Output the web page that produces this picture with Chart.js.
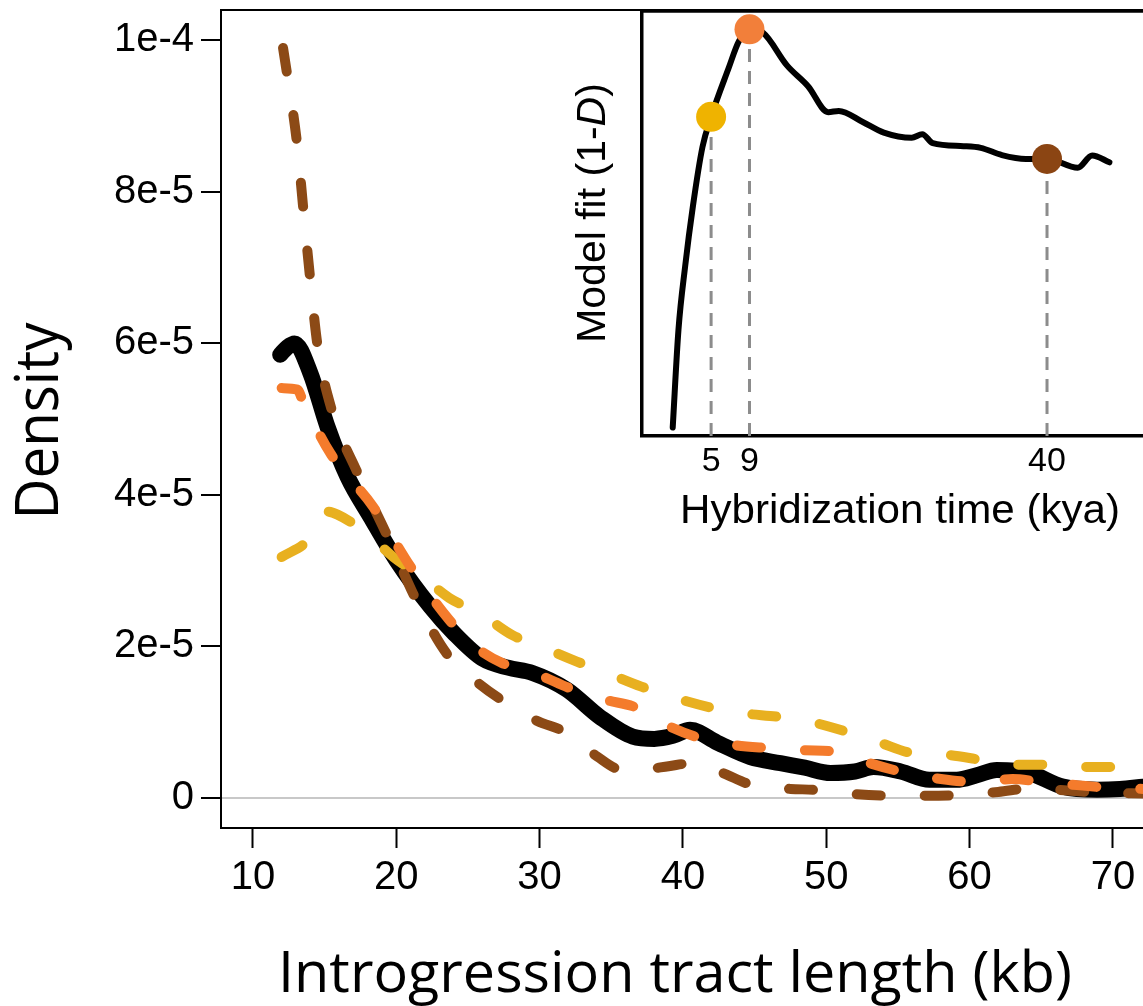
<!DOCTYPE html>
<html>
<head>
<meta charset="utf-8">
<script src="https://cdn.jsdelivr.net/npm/chart.js@4.4.1/dist/chart.umd.min.js"></script>
<style>
  html, body { margin: 0; padding: 0; background: #fff; overflow: hidden; }
  #wrap { position: relative; width: 1143px; height: 1006px; }
  #main { position: absolute; left: 0; top: 0; }
  #inset { position: absolute; left: 540px; top: 0; }
</style>
</head>
<body>
<div id="wrap">
  <canvas id="main" width="1143" height="1006"></canvas>
  <canvas id="inset" width="603" height="545"></canvas>
</div>
<script>
// main panel: tract length density (kb, density)
const kbObserved = [11.9, 12.4, 12.9, 14.0, 15.2, 16.6, 18.2, 20.0, 22.4, 24.0, 26.0, 27.8, 29.5, 31.9, 34.2, 36.5, 38.0, 39.3, 40.5, 42.4, 44.7, 46.8, 48.5, 50.3, 52.0, 53.3, 55.2, 57.2, 59.1, 60.5, 61.9, 63.2, 64.2, 66.5, 68.9, 70.5, 72.1];
const densObserved = [5.85e-5, 5.95e-5, 6.0e-5, 5.61e-5, 4.90e-5, 4.24e-5, 3.71e-5, 3.14e-5, 2.52e-5, 2.18e-5, 1.84e-5, 1.72e-5, 1.65e-5, 1.43e-5, 1.07e-5, 0.81e-5, 0.78e-5, 0.82e-5, 0.90e-5, 0.73e-5, 0.54e-5, 0.46e-5, 0.40e-5, 0.33e-5, 0.35e-5, 0.41e-5, 0.35e-5, 0.24e-5, 0.24e-5, 0.30e-5, 0.37e-5, 0.36e-5, 0.33e-5, 0.15e-5, 0.11e-5, 0.12e-5, 0.15e-5];

const kb9kya = [12.0, 13.1, 13.5, 15.4, 18.4, 21.0, 23.7, 25.5, 27.4, 30.0, 32.1, 34.5, 36.8, 39.0, 41.2, 43.5, 45.9, 48.5, 50.8, 53.2, 55.6, 58.0, 60.5, 63.0, 65.1, 67.5, 70.0, 72.1];
const dens9kya = [5.41e-5, 5.39e-5, 5.23e-5, 4.55e-5, 3.84e-5, 3.05e-5, 2.35e-5, 2.00e-5, 1.78e-5, 1.62e-5, 1.45e-5, 1.30e-5, 1.19e-5, 0.95e-5, 0.79e-5, 0.70e-5, 0.66e-5, 0.63e-5, 0.61e-5, 0.45e-5, 0.33e-5, 0.25e-5, 0.21e-5, 0.25e-5, 0.21e-5, 0.17e-5, 0.13e-5, 0.12e-5];

const kb40kya = [12.1, 13.1, 13.5, 14.0, 14.5, 15.5, 17.3, 19.4, 21.4, 23.5, 25.5, 27.7, 29.8, 31.9, 34.0, 35.8, 37.5, 39.0, 40.7, 42.5, 45.2, 47.5, 49.8, 52.0, 54.7, 57.0, 59.5, 62.0, 64.4, 66.8, 69.1, 72.1];
const dens40kya = [9.9e-5, 8.6e-5, 7.8e-5, 6.84e-5, 5.98e-5, 5.12e-5, 4.29e-5, 3.45e-5, 2.61e-5, 1.91e-5, 1.55e-5, 1.25e-5, 1.02e-5, 0.86e-5, 0.55e-5, 0.37e-5, 0.38e-5, 0.42e-5, 0.46e-5, 0.35e-5, 0.15e-5, 0.12e-5, 0.10e-5, 0.05e-5, 0.03e-5, 0.03e-5, 0.04e-5, 0.08e-5, 0.13e-5, 0.10e-5, 0.07e-5, 0.06e-5];

const kb5kya = [12.0, 13.9, 15.2, 15.9, 17.9, 19.8, 21.8, 23.7, 25.8, 28.1, 30.2, 32.6, 34.7, 37.1, 39.3, 41.8, 44.1, 46.7, 49.0, 51.5, 53.6, 56.1, 58.4, 60.9, 63.3, 65.8, 68.2, 70.7, 72.1];
const dens5kya = [3.18e-5, 3.41e-5, 3.78e-5, 3.74e-5, 3.50e-5, 3.18e-5, 2.92e-5, 2.64e-5, 2.44e-5, 2.15e-5, 1.99e-5, 1.80e-5, 1.65e-5, 1.47e-5, 1.33e-5, 1.20e-5, 1.12e-5, 1.07e-5, 1.00e-5, 0.87e-5, 0.74e-5, 0.59e-5, 0.57e-5, 0.50e-5, 0.44e-5, 0.44e-5, 0.41e-5, 0.41e-5, 0.40e-5];

const xTickValues = [10, 20, 30, 40, 50, 60, 70];
const yTickValues = [0, 2e-5, 4e-5, 6e-5, 8e-5, 1e-4];
const yTickLabels = ['0', '2e-5', '4e-5', '6e-5', '8e-5', '1e-4'];

// inset: model fit vs hybridization time
const fitTime = [1.0, 1.6, 2.3, 3.1, 4.1, 5.0, 6.8, 7.9, 9.0, 10.4, 12.9, 15.1, 17.2, 18.3, 20.8, 23.0, 25.9, 27.0, 28.1, 31.3, 33.1, 35.3, 37.8, 40.0, 43.2, 44.7, 46.5];
const fitValue = [0.02, 0.25, 0.40, 0.54, 0.68, 0.751, 0.864, 0.929, 0.957, 0.949, 0.872, 0.823, 0.762, 0.765, 0.739, 0.714, 0.702, 0.710, 0.689, 0.682, 0.678, 0.661, 0.652, 0.652, 0.631, 0.660, 0.644];
const bestTimes = [5, 9, 40];
const bestValues = [0.751, 0.957, 0.652];
const insetTicks = [5, 9, 40];

const BLACK = '#000000';
const ORANGE = '#f47b2c';
const BROWN = '#8c4a16';
const YELLOW = '#e8b020';
const tickFont = '"Liberation Sans", Arial, sans-serif';
const titleFont = '"Open Sans", "Noto Sans", sans-serif';

function pts(xs, ys) {
  return xs.map((x, i) => ({ x: x, y: ys[i] }));
}

function fitText(ctx, text, x, y, size, family, targetW, angle) {
  ctx.save();
  ctx.font = size + 'px ' + family;
  const w = ctx.measureText(text).width;
  ctx.translate(x, y);
  if (angle) ctx.rotate(angle);
  ctx.scale(targetW / w, 1);
  ctx.textAlign = 'center';
  ctx.textBaseline = 'alphabetic';
  ctx.fillStyle = '#000';
  ctx.fillText(text, 0, 0);
  ctx.restore();
}

function noPad(s) {
  s.paddingTop = 0;
  s.paddingBottom = 0;
  s.paddingLeft = 0;
  s.paddingRight = 0;
}

function dashed(label, xs, ys, color, order) {
  return {
    label: label,
    data: pts(xs, ys),
    borderColor: color,
    borderWidth: 10,
    borderDash: [24, 44],
    borderCapStyle: 'round',
    pointRadius: 0,
    cubicInterpolationMode: 'monotone',
    order: order
  };
}

const mainTitles = {
  id: 'mainTitles',
  beforeDraw(chart) {
    const ctx = chart.ctx;
    ctx.save();
    ctx.fillStyle = '#fff';
    ctx.fillRect(0, 0, chart.width, chart.height);
    ctx.restore();
  },
  afterDraw(chart) {
    const ctx = chart.ctx;
    const a = chart.chartArea;
    ctx.save();
    ctx.strokeStyle = '#000';
    ctx.lineWidth = 2;
    ctx.beginPath();
    ctx.moveTo(a.left, a.top);
    ctx.lineTo(a.right, a.top);
    ctx.stroke();
    ctx.restore();
    fitText(ctx, 'Density', 58, 421, 60, titleFont, 197, -Math.PI / 2);
    fitText(ctx, 'Introgression tract length (kb)', 675, 992, 56, titleFont, 794, 0);
  }
};

new Chart(document.getElementById('main'), {
  type: 'line',
  data: {
    datasets: [
      {
        label: 'Observed',
        data: pts(kbObserved, densObserved),
        borderColor: BLACK,
        borderWidth: 16,
        borderCapStyle: 'round',
        borderJoinStyle: 'round',
        pointRadius: 0,
        cubicInterpolationMode: 'monotone',
        order: 4
      },
      dashed('40 kya', kb40kya, dens40kya, BROWN, 3),
      dashed('5 kya', kb5kya, dens5kya, YELLOW, 2),
      dashed('9 kya', kb9kya, dens9kya, ORANGE, 1)
    ]
  },
  options: {
    responsive: false,
    animation: false,
    devicePixelRatio: 1,
    layout: { autoPadding: false, padding: { top: 10, right: 0, left: 0, bottom: 0 } },
    plugins: { legend: { display: false }, tooltip: { enabled: false } },
    scales: {
      x: {
        type: 'linear',
        min: 7.77,
        max: 72.1,
        afterBuildTicks: (s) => { s.ticks = xTickValues.map(v => ({ value: v })); },
        afterFit: (s) => { s.height = 178; noPad(s); },
        ticks: { color: '#000', font: { size: 40, family: tickFont }, padding: 6, maxRotation: 0 },
        grid: { drawOnChartArea: false, tickLength: 20, tickColor: '#000', tickWidth: 2 },
        border: { display: true, color: '#000', width: 2 }
      },
      y: {
        type: 'linear',
        min: -0.396e-5,
        max: 1.04e-4,
        afterBuildTicks: (s) => { s.ticks = yTickValues.map(v => ({ value: v })); },
        afterFit: (s) => { s.width = 221; noPad(s); },
        ticks: {
          color: '#000',
          font: { size: 40, family: tickFont },
          padding: 7,
          callback: (v, i) => yTickLabels[i]
        },
        grid: {
          drawOnChartArea: true,
          color: (c) => (c.tick && c.tick.value === 0 ? '#c8c8c8' : 'rgba(0,0,0,0)'),
          lineWidth: 2,
          tickLength: 20,
          tickColor: '#000',
          tickWidth: 2
        },
        border: { display: true, color: '#000', width: 2 }
      }
    }
  },
  plugins: [mainTitles]
});

const insetDecor = {
  id: 'insetDecor',
  beforeDraw(chart) {
    const ctx = chart.ctx;
    const a = chart.chartArea;
    ctx.save();
    ctx.fillStyle = '#fff';
    ctx.fillRect(a.left, a.top, a.right - a.left, a.bottom - a.top);
    ctx.restore();
  },
  afterDraw(chart) {
    const ctx = chart.ctx;
    const a = chart.chartArea;
    ctx.save();
    ctx.strokeStyle = '#000';
    ctx.lineWidth = 3.5;
    ctx.beginPath();
    ctx.moveTo(a.left - 1.5, a.top);
    ctx.lineTo(a.right, a.top);
    ctx.stroke();
    ctx.restore();

    fitText(ctx, 'Hybridization time (kya)', 360, 523, 41, tickFont, 440, 0);

    // y title with italic D
    ctx.save();
    ctx.translate(65, 213);
    ctx.rotate(-Math.PI / 2);
    ctx.fillStyle = '#000';
    ctx.textBaseline = 'alphabetic';
    ctx.textAlign = 'left';
    const parts = [['Model fit (1-', ''], ['D', 'italic '], [')', '']];
    let total = 0;
    const widths = parts.map(p => {
      ctx.font = p[1] + '41px ' + tickFont;
      const w = ctx.measureText(p[0]).width;
      total += w;
      return w;
    });
    let x = -total / 2;
    parts.forEach((p, i) => {
      ctx.font = p[1] + '41px ' + tickFont;
      ctx.fillText(p[0], x, 0);
      x += widths[i];
    });
    ctx.restore();
  }
};

const dotColors = ['#efb300', '#f27f3a', '#8b4513'];

const dropLines = bestTimes.map((t, i) => ({
  label: 'drop ' + t,
  data: [{ x: t, y: 0 }, { x: t, y: bestValues[i] }],
  borderColor: '#8c8c8c',
  borderWidth: 3,
  borderDash: [13, 9],
  pointRadius: 0,
  order: 3
}));

new Chart(document.getElementById('inset'), {
  type: 'line',
  data: {
    datasets: [
      {
        label: 'dots',
        data: pts(bestTimes, bestValues),
        showLine: false,
        pointRadius: 15,
        pointBorderWidth: 0,
        pointBackgroundColor: dotColors,
        pointBorderColor: dotColors,
        clip: false,
        order: 1
      },
      {
        label: 'fit',
        data: pts(fitTime, fitValue),
        borderColor: '#000',
        borderWidth: 6,
        borderCapStyle: 'round',
        pointRadius: 0,
        cubicInterpolationMode: 'monotone',
        order: 2
      }
    ].concat(dropLines)
  },
  options: {
    responsive: false,
    animation: false,
    devicePixelRatio: 1,
    layout: { autoPadding: false, padding: { top: 11, right: 0, left: 0, bottom: 0 } },
    plugins: { legend: { display: false }, tooltip: { enabled: false } },
    scales: {
      x: {
        type: 'linear',
        min: -2.2,
        max: 50,
        afterBuildTicks: (s) => { s.ticks = insetTicks.map(v => ({ value: v })); },
        afterFit: (s) => { s.height = 109; noPad(s); },
        ticks: { color: '#000', font: { size: 34, family: tickFont }, padding: 5, maxRotation: 0, autoSkip: false },
        grid: { display: false, drawTicks: false },
        border: { display: true, color: '#000', width: 3.5 }
      },
      y: {
        type: 'linear',
        min: 0,
        max: 1,
        afterFit: (s) => { s.width = 102; noPad(s); },
        ticks: { display: false },
        grid: { display: false, drawTicks: false },
        border: { display: true, color: '#000', width: 3.5 }
      }
    }
  },
  plugins: [insetDecor]
});
</script>
</body>
</html>
